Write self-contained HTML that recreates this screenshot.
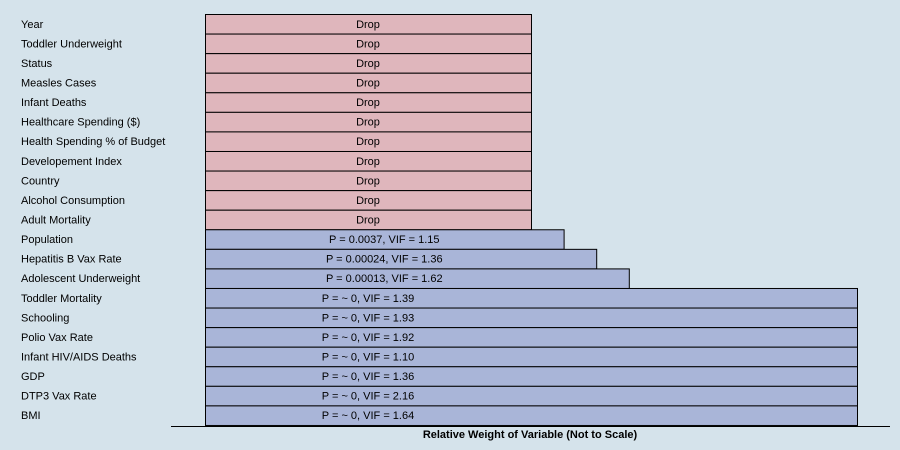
<!DOCTYPE html>
<html><head><meta charset="utf-8"><style>
html,body{margin:0;padding:0;background:#d5e3eb;}
svg{display:block;font-family:"Liberation Sans",Arial,sans-serif;}
</style></head><body>
<svg width="900" height="450">
<rect width="900" height="450" fill="#d5e3eb"/>
<g id="bars"></g>
<line x1="171" y1="426.5" x2="890" y2="426.5" stroke="#000" stroke-width="1"/>
<text x="530" y="438" text-anchor="middle" font-size="11" font-weight="bold">Relative Weight of Variable (Not to Scale)</text>
</svg>
<script>
const categories=["Year","Toddler Underweight","Status","Measles Cases","Infant Deaths","Healthcare Spending ($)","Health Spending % of Budget","Developement Index","Country","Alcohol Consumption","Adult Mortality","Population","Hepatitis B Vax Rate","Adolescent Underweight","Toddler Mortality","Schooling","Polio Vax Rate","Infant HIV/AIDS Deaths","GDP","DTP3 Vax Rate","BMI"];
const weights=[1,1,1,1,1,1,1,1,1,1,1,1.1,1.2,1.3,2,2,2,2,2,2,2];
const pValues=["","","","","","","","","","","","0.0037","0.00024","0.00013","~ 0","~ 0","~ 0","~ 0","~ 0","~ 0","~ 0"];
const vifValues=["","","","","","","","","","","","1.15","1.36","1.62","1.39","1.93","1.92","1.10","1.36","2.16","1.64"];
const dropped=[true,true,true,true,true,true,true,true,true,true,true,false,false,false,false,false,false,false,false,false,false];
const NS="http://www.w3.org/2000/svg";
const x0=205, unit=326, y0=14, step=19.57;
function xs(v){return x0+v*unit;}
function ys(i){return y0+i*step;}
const g=document.getElementById('bars');
categories.forEach((c,i)=>{
  const y=ys(i);
  const lab=document.createElementNS(NS,'text');
  lab.setAttribute('x',21);lab.setAttribute('y',y+step/2+4);lab.setAttribute('font-size','11');
  lab.textContent=c;
  
  
  g.appendChild(lab);
  const r=document.createElementNS(NS,'rect');
  r.setAttribute('x',x0+0.5);r.setAttribute('y',y+0.5);
  r.setAttribute('width',xs(weights[i])-x0);r.setAttribute('height',step);
  r.setAttribute('fill',dropped[i]?'#dfb6bc':'#a9b5d8');
  r.setAttribute('stroke','#000');r.setAttribute('stroke-width','1');
  
  
  g.appendChild(r);
  const w=weights[i];
  const cx = w>=2 ? x0+unit/2 : x0+Math.min(w,1.1)*unit/2;
  const t=document.createElementNS(NS,'text');
  t.setAttribute('x',cx);t.setAttribute('y',y+step/2+4);
  t.setAttribute('text-anchor','middle');t.setAttribute('font-size','11');
  t.textContent=dropped[i]?'Drop':('P = '+pValues[i]+', VIF = '+vifValues[i]);
  
  
  g.appendChild(t);
});
</script>
</body></html>
